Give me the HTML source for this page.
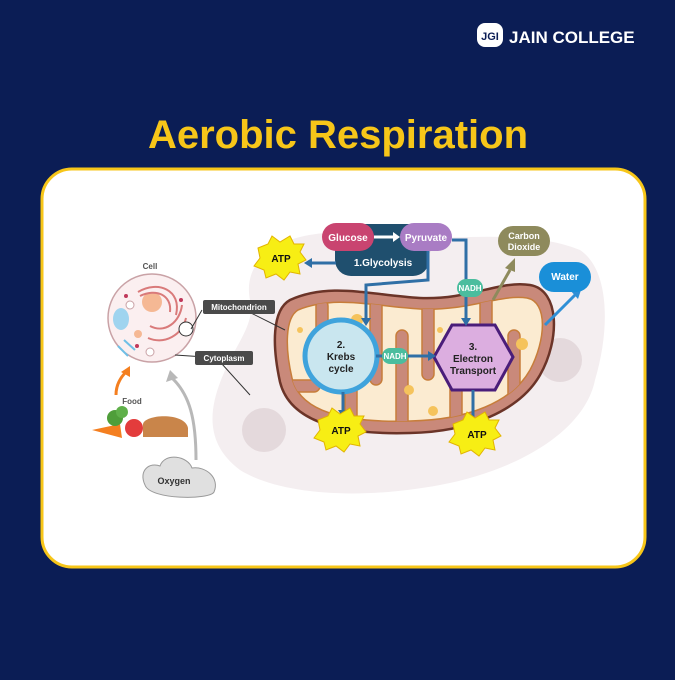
<!DOCTYPE html>
<html><head><style>
body{margin:0;width:675px;height:675px;background:#0b1d55;overflow:hidden;font-family:"Liberation Sans",sans-serif}
</style></head><body>
<svg width="675" height="675" viewBox="0 0 675 675" font-family="Liberation Sans, sans-serif" font-weight="bold">
<rect width="675" height="675" fill="#0b1d55"/>
<rect x="477" y="23" width="26" height="24" rx="8" fill="#fff"/>
<text x="490" y="40" font-size="11" fill="#0b1d55" text-anchor="middle">JGI</text>
<text x="509" y="43" font-size="17" fill="#fff">JAIN COLLEGE</text>
<text x="338" y="148" font-size="40" fill="#f7c619" text-anchor="middle">Aerobic Respiration</text>
<rect x="42" y="169" width="603" height="398" rx="30" fill="#fff" stroke="#f7c619" stroke-width="3"/>
<path d="M250 300 C240 250 300 225 360 235 C430 245 520 225 580 250 C610 270 610 330 595 380 C585 430 520 470 440 485 C360 500 280 495 240 470 C200 440 210 400 230 360 C240 340 255 320 250 300Z" fill="#f4eef0"/>
<circle cx="264" cy="430" r="22" fill="#e4d9dc"/>
<circle cx="560" cy="360" r="22" fill="#e4d9dc"/>
<circle cx="412" cy="244" r="20" fill="#e4d9dc"/>
<defs><clipPath id="mi"><path d="M298 310 C335 295 372 306 420 309 C470 311 500 294 527 298 C548 302 546 340 530 370 C512 402 468 420 410 421 C345 423 300 412 292 378 C285 348 285 318 298 310Z"/></clipPath></defs>
<path d="M290 300 C330 282 370 295 420 298 C470 300 500 280 530 285 C560 290 560 340 540 375 C520 410 470 432 410 433 C340 435 290 422 280 382 C272 345 272 310 290 300Z" fill="#c9897a" stroke="#6b3428" stroke-width="2.5"/>
<path d="M298 310 C335 295 372 306 420 309 C470 311 500 294 527 298 C548 302 546 340 530 370 C512 402 468 420 410 421 C345 423 300 412 292 378 C285 348 285 318 298 310Z" fill="#fbebd1" stroke="#c77d3a" stroke-width="1.5"/>
<g clip-path="url(#mi)" fill="#c9897a" stroke="#c77d3a" stroke-width="1.5">
<rect x="316" y="300" width="12" height="55" rx="6"/>
<rect x="370" y="300" width="12" height="85" rx="6"/>
<rect x="422" y="300" width="12" height="80" rx="6"/>
<rect x="480" y="295" width="12" height="75" rx="6"/>
<rect x="345" y="345" width="12" height="90" rx="6"/>
<rect x="396" y="330" width="12" height="100" rx="6"/>
<rect x="450" y="335" width="12" height="100" rx="6"/>
<rect x="508" y="330" width="12" height="100" rx="6"/>
<rect x="280" y="380" width="40" height="12" rx="6"/>
</g>
<g fill="#f5c35c"><circle cx="357" cy="320" r="6"/><circle cx="409" cy="390" r="5"/><circle cx="522" cy="344" r="6"/><circle cx="433" cy="411" r="5"/><circle cx="345" cy="390" r="4"/><circle cx="300" cy="330" r="3"/><circle cx="440" cy="330" r="3"/></g>
<circle cx="341" cy="356" r="36" fill="#c9e6ef" stroke="#3fa3dc" stroke-width="5"/>
<text font-size="10" fill="#222" text-anchor="middle"><tspan x="341" y="348">2.</tspan><tspan x="341" y="360">Krebs</tspan><tspan x="341" y="372">cycle</tspan></text>
<polygon points="452,325 495,325 513,357 495,390 452,390 434,357" fill="#dcaee0" stroke="#4a1d7a" stroke-width="3"/>
<text font-size="10" fill="#222" text-anchor="middle"><tspan x="473" y="350">3.</tspan><tspan x="473" y="362">Electron</tspan><tspan x="473" y="374">Transport</tspan></text>
<rect x="335" y="224" width="94" height="52" rx="16" fill="#1f4f6e"/>
<text x="383" y="266" font-size="10" fill="#fff" text-anchor="middle">1.Glycolysis</text>
<rect x="322" y="223" width="52" height="28" rx="14" fill="#c94470"/>
<text x="348" y="241" font-size="10" fill="#fff" text-anchor="middle">Glucose</text>
<rect x="400" y="223" width="52" height="28" rx="14" fill="#a97cc4"/>
<text x="426" y="241" font-size="10" fill="#fff" text-anchor="middle">Pyruvate</text>
<path d="M374 237 L393 237" stroke="#fff" stroke-width="3"/><polygon points="393,232 400,237 393,242" fill="#fff"/>
<g stroke="#2f6fa6" stroke-width="3" fill="none">
<path d="M336 263 L312 263"/>
<path d="M428 251 L428 280 L366 285 L366 320"/>
<path d="M452 240 L466 240 L466 320"/>
<path d="M376 356 L430 356"/>
<path d="M343 392 L343 410"/>
<path d="M473 390 L473 420"/>
<path d="M545 325 L575 295" stroke="#2f8fd6"/>
<path d="M493 300 L510 270" stroke="#8e8a5c"/>
</g>
<g fill="#2f6fa6"><polygon points="312,258 304,263 312,268"/><polygon points="361,318 366,326 371,318"/><polygon points="461,318 466,326 471,318"/><polygon points="428,351 436,356 428,361"/><polygon points="338,410 343,418 348,410"/><polygon points="468,418 473,426 478,418"/></g>
<polygon points="570,290 582,287 578,299" fill="#2f8fd6"/>
<polygon points="505,268 515,258 515,272" fill="#8e8a5c"/>
<rect x="457" y="279" width="26" height="18" rx="9" fill="#4bbd9e"/><text x="470" y="291" font-size="8" fill="#fff" text-anchor="middle">NADH</text>
<rect x="382" y="348" width="26" height="16" rx="8" fill="#4bbd9e"/><text x="395" y="359" font-size="8" fill="#fff" text-anchor="middle">NADH</text>
<rect x="498" y="226" width="52" height="30" rx="15" fill="#8e8a5c"/>
<text font-size="9" fill="#fff" text-anchor="middle"><tspan x="524" y="239">Carbon</tspan><tspan x="524" y="250">Dioxide</tspan></text>
<rect x="539" y="262" width="52" height="30" rx="15" fill="#1a8fd8"/><text x="565" y="280" font-size="10" fill="#fff" text-anchor="middle">Water</text>
<g fill="#f7ee14" stroke="#e2b400" stroke-width="1">
<polygon points="258,248 268,244 272,236 280,242 290,236 294,244 304,244 300,252 306,260 298,264 300,274 290,272 284,280 276,274 266,278 264,270 254,266 260,258"/>
<polygon points="318,420 328,416 332,408 340,414 350,408 354,416 364,416 360,424 366,432 358,436 360,446 350,444 344,452 336,446 326,450 324,442 314,438 320,430"/>
<polygon points="453,424 463,420 467,412 475,418 485,412 489,420 499,420 495,428 501,436 493,440 495,450 485,448 479,456 471,450 461,454 459,446 449,442 455,434"/>
</g>
<g font-size="10" fill="#111" text-anchor="middle"><text x="281" y="262">ATP</text><text x="341" y="434">ATP</text><text x="477" y="438">ATP</text></g>
<text x="150" y="269" font-size="8" fill="#555" text-anchor="middle">Cell</text>
<circle cx="152" cy="318" r="44" fill="#fbeff0" stroke="#c9a2a6" stroke-width="1.5"/>
<circle cx="152" cy="302" r="10" fill="#f5b894"/>
<path d="M138 292 C158 280 182 290 176 315 M140 296 C156 288 172 295 170 312 M150 326 C165 334 180 322 182 305 M148 338 C165 345 182 335 186 318" stroke="#d97a7a" stroke-width="2" fill="none"/>
<ellipse cx="121" cy="319" rx="8" ry="11" fill="#9fd4ef"/>
<path d="M124 340 L135 350 M118 346 L128 356" stroke="#6fbfe6" stroke-width="2"/>
<circle cx="138" cy="334" r="4" fill="#f5b894"/><circle cx="130" cy="305" r="4" fill="#fff" stroke="#c9a2a6"/>
<circle cx="150" cy="352" r="4" fill="#fff" stroke="#c9a2a6"/>
<circle cx="126" cy="296" r="2" fill="#c0375a"/><circle cx="181" cy="300" r="2" fill="#c0375a"/><circle cx="137" cy="346" r="2" fill="#c0375a"/>
<circle cx="186" cy="329" r="7" fill="#fff" stroke="#333"/>
<path d="M191 329 L202 310 M175 355 L235 359" stroke="#333" stroke-width="1" fill="none"/>
<path d="M245 310 L285 330 M222 364 L250 395" stroke="#333" stroke-width="1"/>
<rect x="203" y="300" width="72" height="14" rx="2" fill="#4a4a4a"/><text x="239" y="310" font-size="8" fill="#fff" text-anchor="middle">Mitochondrion</text>
<rect x="195" y="351" width="58" height="14" rx="2" fill="#4a4a4a"/><text x="224" y="361" font-size="8" fill="#fff" text-anchor="middle">Cytoplasm</text>
<text x="132" y="404" font-size="8" fill="#555" text-anchor="middle">Food</text>
<path d="M116 395 C116 385 120 378 126 372" stroke="#f47f20" stroke-width="3" fill="none"/><polygon points="121,372 130,366 130,377" fill="#f47f20"/>
<path d="M92 430 L120 424 L122 438 Z" fill="#f47f20"/>
<circle cx="115" cy="418" r="8" fill="#4f9e3a"/><circle cx="122" cy="412" r="6" fill="#5fb04a"/>
<circle cx="134" cy="428" r="9" fill="#e33c3c"/>
<path d="M143 424 C145 414 185 412 188 428 L188 437 L143 437 Z" fill="#c9854a"/>
<path d="M196 460 C196 420 190 395 172 378" stroke="#b8b8b8" stroke-width="3" fill="none"/><polygon points="166,382 170,370 178,378" fill="#b8b8b8"/>
<path d="M145 485 C138 470 150 462 160 466 C165 452 188 456 192 468 C206 466 220 478 214 492 C210 500 150 500 145 485Z" fill="#e0e0e0" stroke="#999"/>
<text x="174" y="484" font-size="9" fill="#333" text-anchor="middle">Oxygen</text>
</svg>
</body></html>
